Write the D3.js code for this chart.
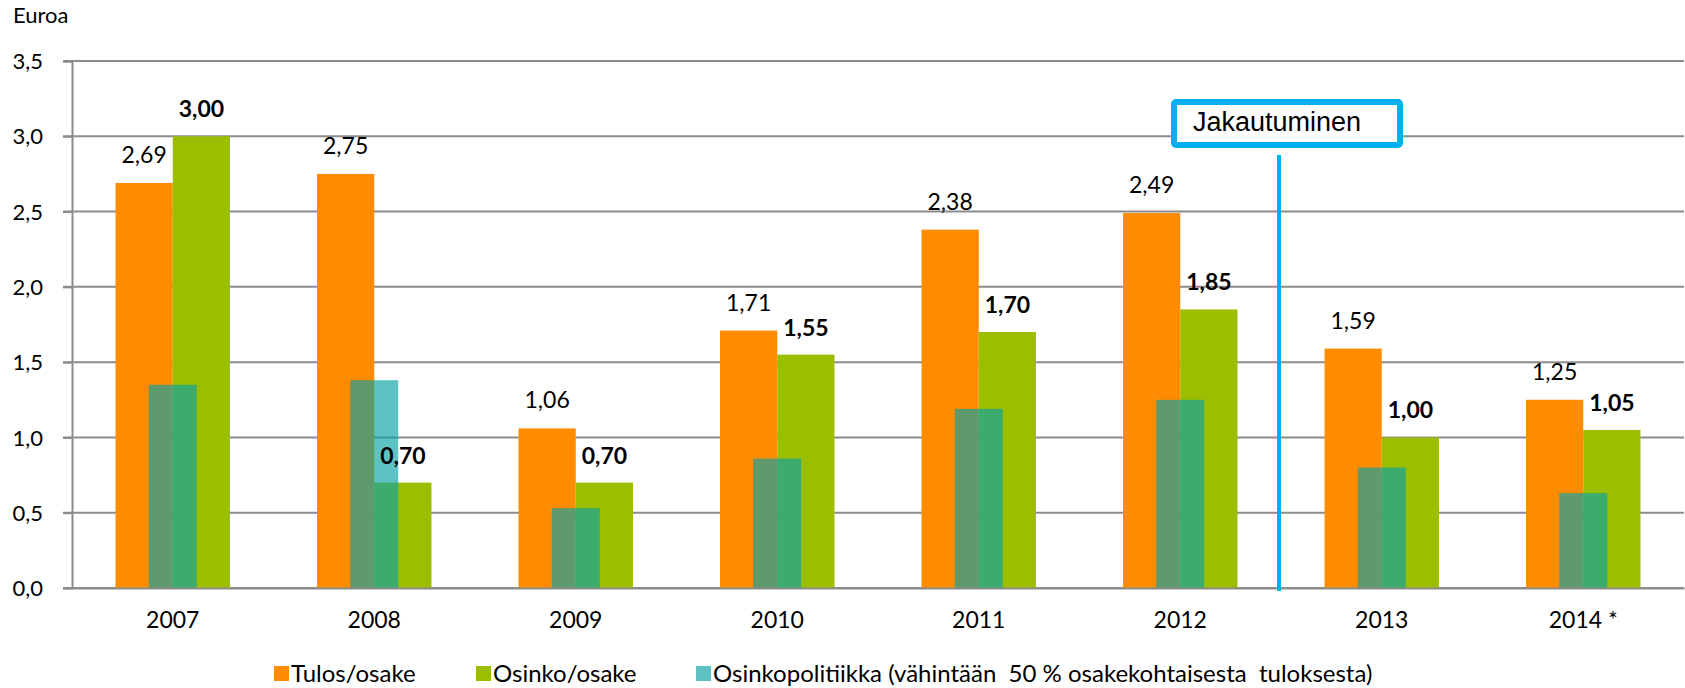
<!DOCTYPE html>
<html>
<head>
<meta charset="utf-8">
<script src="https://cdn.jsdelivr.net/npm/d3@7"></script>
<style>
  body { margin: 0; background: #fff; }
  text { font-family: Lato, "Open Sans", sans-serif; fill: #000; white-space: pre; }
</style>
</head>
<body>
<div class="container"></div>
<script>
// data
var years = ["2007", "2008", "2009", "2010", "2011", "2012", "2013", "2014 *"];
var tulos = [2.69, 2.75, 1.06, 1.71, 2.38, 2.49, 1.59, 1.25];      // Tulos/osake
var osinko = [3.00, 0.70, 0.70, 1.55, 1.70, 1.85, 1.00, 1.05];     // Osinko/osake
var politiikka = [1.35, 1.38, 0.53, 0.86, 1.19, 1.25, 0.80, 0.63]; // Osinkopolitiikka
var yTicks = [0, 0.5, 1, 1.5, 2, 2.5, 3, 3.5];
var legendNames = ["Tulos/osake", "Osinko/osake", "Osinkopolitiikka (vähintään  50 % osakekohtaisesta  tuloksesta)"];

var W = 1685, H = 688;
var plotLeft = 72, plotRight = 1684, plotTop = 61, plotBottom = 588;
var orange = "#ff8c00", green = "#9bbf00", teal = "#08a2a4";

var svg = d3.select(".container").insert("svg")
    .attr("width", W)
    .attr("height", H);

var x = d3.scaleBand().domain(years).range([plotLeft, plotRight]);
var y = d3.scaleLinear().domain([0, 3.5]).range([plotBottom, plotTop]);
var fmt = function(v) { return d3.format(".2f")(v).replace(".", ","); };

// gridlines
svg.append("g")
    .selectAll("line")
    .data(yTicks)
    .join("line")
    .attr("x1", plotLeft - 9)
    .attr("x2", plotRight)
    .attr("y1", function(d) { return y(d); })
    .attr("y2", function(d) { return y(d); })
    .style("stroke", "#8c8c8c")
    .style("stroke-width", "2px");

// left axis
var yAxis = svg.append("g")
    .attr("transform", "translate(" + plotLeft + ",0)")
    .call(d3.axisLeft(y).tickValues(yTicks).tickSize(9).tickPadding(20)
        .tickFormat(function(d) { return d3.format(".1f")(d).replace(".", ","); }));
yAxis.select(".domain").style("stroke", "#8c8c8c").style("stroke-width", "2px");
yAxis.selectAll("line").style("stroke", "#8c8c8c").style("stroke-width", "2px");
yAxis.selectAll("text").style("font-size", "22px").attr("dy", "0.35em");

svg.append("text")
    .attr("x", 13)
    .attr("y", 23)
    .style("font-size", "22px")
    .text("Euroa");

var band = x.bandwidth();
var bw = band * 0.284, tw = band * 0.238;
var cx = function(i) { return x(years[i]) + band / 2; };

// bars
svg.append("g").selectAll("rect")
    .data(tulos)
    .join("rect")
    .attr("x", function(d, i) { return cx(i) - bw; })
    .attr("y", function(d) { return y(d); })
    .attr("width", bw)
    .attr("height", function(d) { return plotBottom - y(d); })
    .style("fill", orange);

svg.append("g").selectAll("rect")
    .data(osinko)
    .join("rect")
    .attr("x", function(d, i) { return cx(i); })
    .attr("y", function(d) { return y(d); })
    .attr("width", bw)
    .attr("height", function(d) { return plotBottom - y(d); })
    .style("fill", green);

svg.append("g").selectAll("rect")
    .data(politiikka)
    .join("rect")
    .attr("x", function(d, i) { return cx(i) - tw / 2; })
    .attr("y", function(d) { return y(d); })
    .attr("width", tw)
    .attr("height", function(d) { return plotBottom - y(d); })
    .style("fill", teal)
    .style("fill-opacity", 0.65);

// value labels
svg.append("g").selectAll("text")
    .data(tulos)
    .join("text")
    .attr("x", function(d, i) { return cx(i) - bw / 2; })
    .attr("y", function(d) { return y(d) - 20; })
    .attr("text-anchor", "middle")
    .style("font-size", "23px")
    .text(fmt);

svg.append("g").selectAll("text")
    .data(osinko)
    .join("text")
    .attr("x", function(d, i) { return cx(i) + bw / 2; })
    .attr("y", function(d) { return y(d) - 19; })
    .attr("text-anchor", "middle")
    .style("font-size", "23px")
    .style("font-weight", "bold")
    .text(fmt);

// bottom axis
var xAxis = svg.append("g")
    .attr("transform", "translate(0," + plotBottom + ")")
    .call(d3.axisBottom(x).tickSize(0).tickPadding(24));
xAxis.select(".domain").style("stroke", "#8c8c8c").style("stroke-width", "2px");
xAxis.selectAll("text").style("font-size", "23px");

// Jakautuminen marker
svg.append("line")
    .attr("x1", 1279).attr("x2", 1279)
    .attr("y1", 155).attr("y2", 591)
    .style("stroke", "#00b0f0")
    .style("stroke-width", "4px");
svg.append("rect")
    .attr("x", 1174).attr("y", 102)
    .attr("width", 226).attr("height", 43)
    .attr("rx", 2)
    .style("fill", "#fff")
    .style("stroke", "#00b0f0")
    .style("stroke-width", "6px");
svg.append("text")
    .attr("x", 1193).attr("y", 131)
    .style("font-family", "'Liberation Sans', Arial, sans-serif")
    .style("font-size", "27px")
    .text("Jakautuminen");

// legend
var legX = [274, 476, 696];
var legColors = [orange, green, teal];
var leg = svg.append("g").selectAll("g")
    .data(legendNames)
    .join("g")
    .attr("transform", function(d, i) { return "translate(" + legX[i] + ",666)"; });
leg.append("rect")
    .attr("width", 15).attr("height", 15)
    .style("fill", function(d, i) { return legColors[i]; })
    .style("fill-opacity", function(d, i) { return i == 2 ? 0.65 : 1; });
leg.append("text")
    .attr("x", 17).attr("y", 16)
    .style("font-size", "24px")
    .text(function(d) { return d; });
</script>
</body>
</html>
